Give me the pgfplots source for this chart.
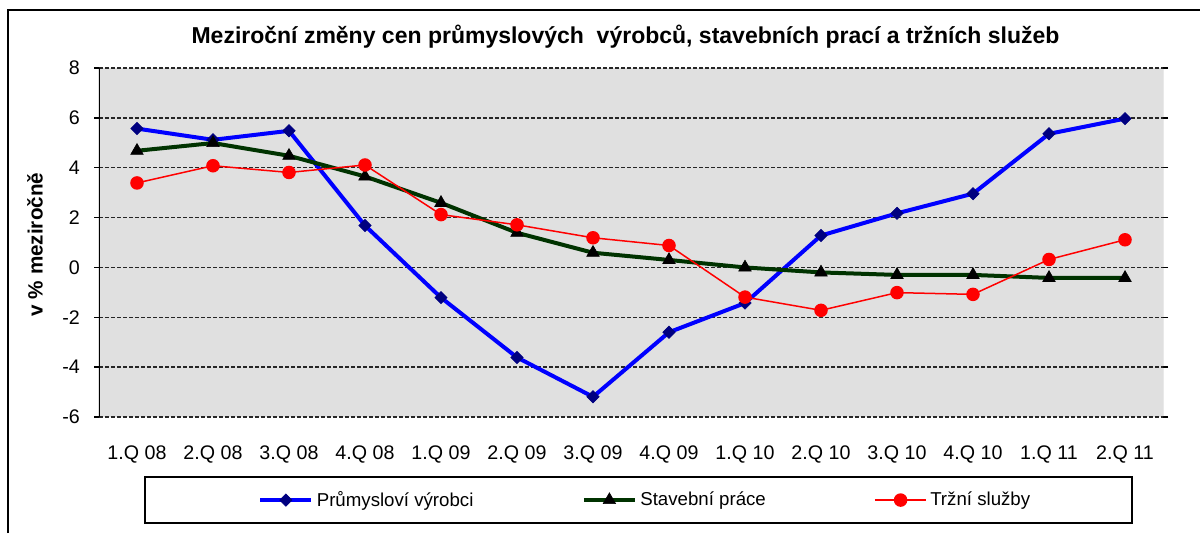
\documentclass[border=0pt]{standalone}
\usepackage{pgfplots}
\pgfplotsset{compat=1.18}
\usepackage{fontspec}
\setmainfont{Liberation Sans}
\definecolor{bggray}{RGB}{224,224,224}
\definecolor{navy}{RGB}{0,0,128}
\definecolor{dgreen}{RGB}{0,51,0}
\begin{document}
\begin{tikzpicture}
\useasboundingbox (0pt,0pt) rectangle (720pt,-319.8pt);
% outer frame
\draw[black, line width=0.7pt] (4.8pt,-319.8pt) -- (4.8pt,-6pt) -- (720pt,-6pt);
\node[font=\bfseries\fontsize{13.8}{16}\selectfont] at (375.3pt,-22pt) {Meziroční změny cen průmyslových\ \ výrobců, stavebních prací a tržních služeb};
\node[font=\bfseries\fontsize{12.4}{14}\selectfont, rotate=90] at (21pt,-146.7pt) {v \% meziročně};
\begin{axis}[
  at={(59.4pt,-250.2pt)}, anchor=south west,
  scale only axis, width=638.4pt, height=209.4pt,
  xmin=-0.5, xmax=13.5, ymin=-6, ymax=8,
  ytick={-6,-4,...,8},
  xtick={0,...,13},
  xticklabels={1.Q 08,2.Q 08,3.Q 08,4.Q 08,1.Q 09,2.Q 09,3.Q 09,4.Q 09,1.Q 10,2.Q 10,3.Q 10,4.Q 10,1.Q 11,2.Q 11},
  /pgf/number format/assume math mode=true,
  ticklabel style={font=\fontsize{11.8}{14}\selectfont},
  xticklabel style={yshift=-11pt},
  yticklabel style={xshift=-5pt},
  tick align=outside,
  major tick length=3pt,
  xtick style={draw=none},
  ytick style={black, line width=0.8pt},
  ymajorgrids,
  grid style={black!85, dash pattern=on 2.4pt off 1.2pt, line width=0.9pt},
  axis background/.style={fill=bggray},
  axis line style={draw=none},
  legend columns=3,
  legend style={at={(axis description cs:0.514,-0.238)}, anchor=center, draw=none, fill=none,
    font=\fontsize{11.2}{13}\selectfont, /tikz/every even column/.append style={column sep=63pt}},
  legend image code/.code={\draw[mark repeat=2,mark phase=2,#1] plot coordinates {(0cm,0cm) (0.54cm,0cm) (1.08cm,0cm)};},
]
\addplot[blue, line width=2.4pt, mark=square*, mark size=2.6pt, mark options={rotate=45, fill=navy, draw=navy, line width=0.4pt}] coordinates {
(0,5.57) (1,5.12) (2,5.48) (3,1.68) (4,-1.21) (5,-3.61) (6,-5.19) (7,-2.6) (8,-1.43) (9,1.28) (10,2.17) (11,2.96) (12,5.36) (13,5.97)};
\addlegendentry{Průmysloví výrobci}
\addplot[dgreen, line width=2.4pt, mark=triangle*, mark size=4.3pt, mark options={fill=black, draw=black, line width=0.4pt}] coordinates {
(0,4.68) (1,4.99) (2,4.48) (3,3.65) (4,2.59) (5,1.39) (6,0.59) (7,0.3) (8,0.0) (9,-0.2) (10,-0.3) (11,-0.3) (12,-0.42) (13,-0.42)};
\addlegendentry{Stavební práce}
\addplot[red, line width=0.9pt, mark=*, mark size=3.6pt, mark options={fill=red, draw=red}] coordinates {
(0,3.39) (1,4.08) (2,3.81) (3,4.11) (4,2.12) (5,1.71) (6,1.19) (7,0.88) (8,-1.19) (9,-1.72) (10,-1.01) (11,-1.08) (12,0.32) (13,1.11)};
\addlegendentry{Tržní služby}
\draw[black, line width=1.8pt] (rel axis cs:0,0) -- (rel axis cs:0,1);
\draw[black!70, line width=0.6pt] (rel axis cs:1,0) -- (rel axis cs:1,1);
\end{axis}
\draw[black, line width=0.9pt] (87pt,-286.2pt) rectangle (679.2pt,-313.8pt);
\end{tikzpicture}
\end{document}
